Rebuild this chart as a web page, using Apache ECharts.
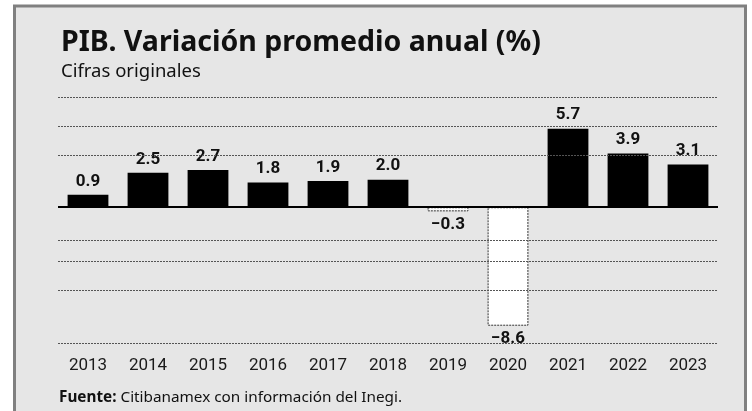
<!DOCTYPE html>
<html>
<head>
<meta charset="utf-8">
<script src="https://cdn.jsdelivr.net/npm/echarts@6/dist/echarts.min.js"></script>
<style>
html,body{margin:0;padding:0;background:#fff;}
#c{width:752px;height:411px;}
</style>
</head>
<body>
<div id="c"></div>
<script>
const years = ['2013','2014','2015','2016','2017','2018','2019','2020','2021','2022','2023'];
const pibValues = [0.9, 2.5, 2.7, 1.8, 1.9, 2.0, -0.3, -8.6, 5.7, 3.9, 3.1];
const guideLevels = [8, 5.9, 3.75, -2.4, -3.9, -6, -9.85];
const titleText = 'PIB. Variación promedio anual (%)';
const subtitleText = 'Cifras originales';
const sourceLabel = 'Fuente:';
const sourceText = ' Citibanamex con información del Inegi.';

const FONT = 'Roboto, "Noto Sans", sans-serif';
const TFONT = '"Noto Sans", Roboto, sans-serif';
const chart = echarts.init(document.getElementById('c'), null, {renderer:'canvas'});

const barData = pibValues.map(v => v < 0
  ? {value: v, itemStyle: {color:'#ffffff', borderColor:'#333', borderWidth:1, borderType:[2,1]},
     label: {position:'bottom', distance:5}}
  : {value: v});

chart.setOption({
  animation: false,
  backgroundColor: '#ffffff',
  graphic: [
    {type:'rect', z:-10, shape:{x:14.5, y:6, width:731, height:420},
     style:{fill:'#e6e6e6', stroke:'#808080', lineWidth:3}},
    {type:'text', left:59, top:390, z:10,
     style:{text:'{b|' + sourceLabel + '}' + sourceText,
       rich:{b:{fontWeight:'bold', fontSize:15.3, fontFamily:TFONT, fill:'#111'}},
       fontSize:15.3, fontFamily:TFONT, fill:'#111'}}
  ],
  title: {
    text: titleText, subtext: subtitleText,
    left: 56, top: 23, itemGap: 5,
    textStyle: {fontFamily:TFONT, fontSize:28.5, fontWeight:'bold', color:'#111'},
    subtextStyle: {fontFamily:TFONT, fontSize:18.5, color:'#111'}
  },
  grid: {left:58, right:34, top:97, bottom:66},
  xAxis: {
    type:'category', data: years,
    axisLine:{show:false}, axisTick:{show:false},
    axisLabel:{fontFamily:FONT, fontSize:17, color:'#1a1a1a', margin:12}
  },
  yAxis: {
    type:'value', min:-10, max:8,
    axisLabel:{show:false}, axisLine:{show:false}, axisTick:{show:false},
    splitLine:{show:false}
  },
  series: [
    {
      type:'line', data:[], z:1, silent:true,
      markLine:{
        symbol:'none', silent:true, label:{show:false},
        lineStyle:{color:'#555', width:1, type:[2,1]},
        data: guideLevels.map(v => ({yAxis:v}))
      }
    },
    {
      type:'bar', data: barData, z:2, barWidth:'68%',
      itemStyle:{color:'#000'},
      label:{
        show:true, position:'top', distance:5,
        fontFamily:FONT, fontSize:17, fontWeight:'bold', color:'#111',
        formatter: p => (p.value < 0 ? '\u2212' : '') + Math.abs(p.value).toFixed(1)
      },
      markLine:{
        symbol:'none', silent:true, label:{show:false}, z:5,
        lineStyle:{color:'#000', width:2, type:'solid'},
        data:[{yAxis:0}]
      }
    }
  ]
});
</script>
</body>
</html>
